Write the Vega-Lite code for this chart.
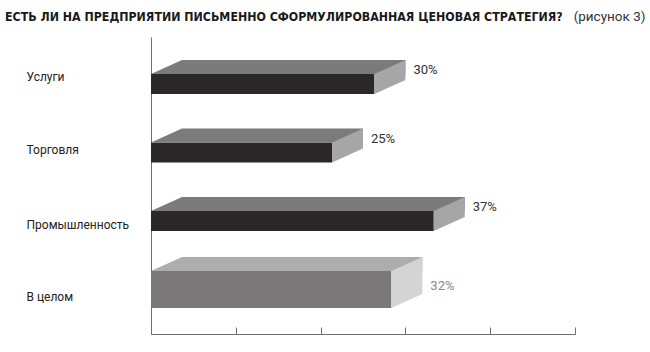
{
  "$schema": "https://vega.github.io/schema/vega-lite/v6.json",
  "width": 424,
  "height": 297,
  "autosize": {"type": "none"},
  "padding": {"left": 151, "top": 37, "right": 75, "bottom": 18},
  "background": "white",
  "title": {
    "text": "ЕСТЬ ЛИ НА ПРЕДПРИЯТИИ ПИСЬМЕННО СФОРМУЛИРОВАННАЯ ЦЕНОВАЯ СТРАТЕГИЯ?",
    "anchor": "start",
    "frame": "group",
    "dx": -146,
    "font": "Liberation Sans Narrow, DejaVu Sans Condensed, sans-serif",
    "fontSize": 12.3,
    "fontWeight": "bold",
    "color": "#1a1a1a",
    "offset": -14
  },
  "data": {
    "values": [
      {"category": "Услуги", "value": 30, "group": "sector", "label": "30%"},
      {"category": "Торговля", "value": 25, "group": "sector", "label": "25%"},
      {"category": "Промышленность", "value": 37, "group": "sector", "label": "37%"},
      {"category": "В целом", "value": 32, "group": "total", "label": "32%"}
    ]
  },
  "config": {"view": {"stroke": null}},
  "encoding": {
    "y": {
      "field": "category", "type": "nominal", "sort": null,
      "scale": {"type": "band", "paddingInner": 0, "paddingOuter": 0.168, "align": 0.55},
      "axis": {
        "title": null, "orient": "left", "ticks": false, "domain": true, "grid": false,
        "domainColor": "#6e6e6e", "labelAlign": "left", "labelPadding": 125,
        "labelFont": "Roboto", "labelFontSize": 12, "labelColor": "#222",
        "labelBaseline": "middle",
        "labelOffset": {
          "condition": [
            {"test": "datum.value === 'Услуги'", "value": -7},
            {"test": "datum.value === 'Торговля'", "value": -2},
            {"test": "datum.value === 'Промышленность'", "value": 4}
          ],
          "value": 8
        }
      }
    },
    "x": {
      "field": "value", "type": "quantitative",
      "scale": {"domain": [0, 50], "nice": false},
      "axis": {
        "orient": "bottom", "values": [0, 10, 20, 30, 40, 50], "labels": false,
        "tickSize": -7, "tickColor": "#6e6e6e",
        "domainColor": "#6e6e6e", "grid": false,
        "title": "(рисунок 3)", "titleFont": "Roboto", "titleFontSize": 13.5,
        "titleFontWeight": "normal", "titleColor": "#333", "titleAlign": "right",
        "titleX": 494, "titleY": -314, "titleBaseline": "alphabetic"
      }
    }
  },
  "layer": [
    {
      "transform": [{"filter": "datum.group === 'sector'"}],
      "layer": [
        {
          "mark": {"type": "bar", "color": "#2b2728", "size": 20, "xOffset": -31},
          "encoding": {"x2": {"datum": 0}}
        },
        {
          "mark": {"type": "bar", "color": "#7b7b7b", "size": 14, "yOffset": -17, "x2Offset": 31},
          "encoding": {"x2": {"datum": 0}}
        },
        {
          "mark": {"type": "point", "shape": "M0,-10L31,-24L31,-10Z", "size": 4, "filled": true, "color": "#7b7b7b", "opacity": 1, "strokeWidth": 0},
          "encoding": {"x": {"datum": 0, "type": "quantitative"}}
        },
        {
          "mark": {"type": "point", "shape": "M-31,-10L0,-24L0,-4L-31,10Z", "size": 4, "filled": true, "color": "#a6a6a6", "opacity": 1, "strokeWidth": 0}
        },
        {
          "mark": {"type": "text", "align": "left", "baseline": "middle", "dx": 8, "dy": -13.5, "font": "Roboto", "fontSize": 13, "color": "#333"},
          "encoding": {"text": {"field": "label"}}
        }
      ]
    },
    {
      "transform": [{"filter": "datum.group === 'total'"}],
      "layer": [
        {
          "mark": {"type": "bar", "color": "#7b7879", "size": 37, "xOffset": -31},
          "encoding": {"x2": {"datum": 0}}
        },
        {
          "mark": {"type": "bar", "color": "#adadad", "size": 14, "yOffset": -25.5, "x2Offset": 31},
          "encoding": {"x2": {"datum": 0}}
        },
        {
          "mark": {"type": "point", "shape": "M0,-18.5L31,-32.5L31,-18.5Z", "size": 4, "filled": true, "color": "#adadad", "opacity": 1, "strokeWidth": 0},
          "encoding": {"x": {"datum": 0, "type": "quantitative"}}
        },
        {
          "mark": {"type": "point", "shape": "M-31,-18.5L0,-32.5L0,4.5L-31,18.5Z", "size": 4, "filled": true, "color": "#d4d4d4", "opacity": 1, "strokeWidth": 0}
        },
        {
          "mark": {"type": "text", "align": "left", "baseline": "middle", "dx": 8, "dy": -3, "font": "Roboto", "fontSize": 13, "color": "#8a8a8a"},
          "encoding": {"text": {"field": "label"}}
        }
      ]
    }
  ]
}
